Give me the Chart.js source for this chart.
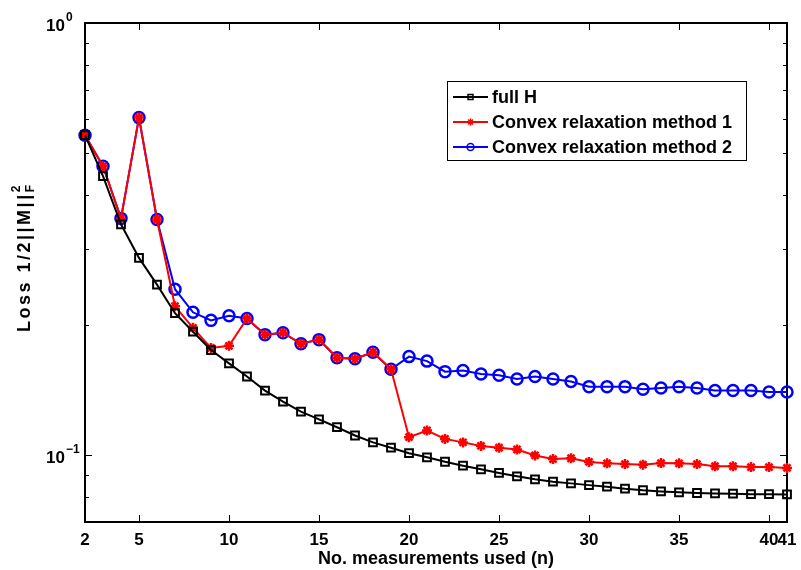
<!DOCTYPE html>
<html>
<head>
<meta charset="utf-8">
<script src="https://cdn.jsdelivr.net/npm/chart.js@4/dist/chart.umd.min.js"></script>
<style>
  body { margin: 0; background: #fff; }
  canvas { display: block; }
</style>
</head>
<body>
<canvas id="chart-loss" width="801" height="570"></canvas>
<script>
// values
const nValues = [2, 3, 4, 5, 6, 7, 8, 9, 10, 11, 12, 13, 14, 15, 16, 17, 18, 19, 20, 21,
                 22, 23, 24, 25, 26, 27, 28, 29, 30, 31, 32, 33, 34, 35, 36, 37, 38, 39, 40, 41];

const fullH = [0.550, 0.442, 0.342, 0.286, 0.248, 0.213, 0.193, 0.175, 0.163, 0.152,
               0.141, 0.133, 0.126, 0.121, 0.116, 0.111, 0.107, 0.104, 0.101, 0.0988,
               0.0965, 0.0945, 0.0927, 0.0909, 0.0893, 0.0879, 0.0868, 0.0860, 0.0852, 0.0845,
               0.0836, 0.0829, 0.0824, 0.0820, 0.0817, 0.0815, 0.0814, 0.0812, 0.0812, 0.0811];

const method1 = [0.550, 0.466, 0.353, 0.604, 0.351, 0.221, 0.197, 0.177, 0.179, 0.207,
                 0.190, 0.192, 0.181, 0.185, 0.168, 0.167, 0.173, 0.158, 0.110, 0.114,
                 0.109, 0.107, 0.105, 0.104, 0.103, 0.0998, 0.0979, 0.0983, 0.0964, 0.0957,
                 0.0953, 0.0950, 0.0958, 0.0957, 0.0953, 0.0942, 0.0942, 0.0938, 0.0938, 0.0934];

const method2 = [0.550, 0.466, 0.353, 0.604, 0.351, 0.242, 0.214, 0.205, 0.210, 0.207,
                 0.190, 0.192, 0.181, 0.185, 0.168, 0.167, 0.173, 0.158, 0.169, 0.165,
                 0.156, 0.157, 0.154, 0.153, 0.150, 0.152, 0.150, 0.148, 0.144, 0.144,
                 0.144, 0.142, 0.143, 0.144, 0.143, 0.141, 0.141, 0.141, 0.140, 0.140];

const seriesLabels = ['full H', 'Convex relaxation method 1', 'Convex relaxation method 2'];

// axis ticks
const xTicks = [2, 5, 10, 15, 20, 25, 30, 35, 40, 41];
const yMajorTicks = [0.1, 1];
const yMajorLabels = [['10', '\u22121'], ['10', '0']];
const yMinorTicks = [0.08, 0.09, 0.2, 0.3, 0.4, 0.5, 0.6, 0.7, 0.8, 0.9];

const FONT = "'Liberation Sans', Arial, Helvetica, sans-serif";

function toPoints(arr) {
    return nValues.map((n, i) => ({ x: n, y: arr[i] }));
}

// box + inward ticks, matlab style
const axesBox = {
    id: 'axesBox',
    beforeDatasetsDraw(chart) {
        const { ctx, chartArea: a, scales: { x, y } } = chart;
        ctx.save();
        ctx.strokeStyle = '#000';
        ctx.lineWidth = 1;
        ctx.beginPath();
        xTicks.forEach(v => {
            const px = Math.round(x.getPixelForValue(v)) + 0.5;
            ctx.moveTo(px, a.bottom); ctx.lineTo(px, a.bottom - 7);
            ctx.moveTo(px, a.top); ctx.lineTo(px, a.top + 7);
        });
        yMajorTicks.forEach(v => {
            const py = Math.round(y.getPixelForValue(v)) + 0.5;
            ctx.moveTo(a.left, py); ctx.lineTo(a.left + 7, py);
            ctx.moveTo(a.right, py); ctx.lineTo(a.right - 7, py);
        });
        yMinorTicks.forEach(v => {
            const py = Math.round(y.getPixelForValue(v)) + 0.5;
            ctx.moveTo(a.left, py); ctx.lineTo(a.left + 4, py);
            ctx.moveTo(a.right, py); ctx.lineTo(a.right - 4, py);
        });
        ctx.stroke();
        ctx.lineWidth = 2;
        ctx.strokeRect(a.left, a.top, a.right - a.left, a.bottom - a.top);

        // y tick labels 10^k
        ctx.fillStyle = '#000';
        ctx.textBaseline = 'alphabetic';
        ctx.textAlign = 'left';
        yMajorTicks.forEach((v, i) => {
            const py = y.getPixelForValue(v);
            const [base, sup] = yMajorLabels[i];
            ctx.font = 'bold 17px ' + FONT;
            ctx.fillText(base, 46, py + 8);
            const w = ctx.measureText(base).width;
            ctx.font = 'bold 12px ' + FONT;
            ctx.fillText(sup, 46 + w + 1, py - 2);
        });

        // y axis title with sup/sub, spaced out glyph by glyph
        ctx.translate(30, 332);
        ctx.rotate(-Math.PI / 2);
        ctx.font = 'bold 18px ' + FONT;
        let pos = 0;
        for (const ch of 'Loss 1/2||M||') {
            ctx.fillText(ch, pos, 0);
            pos += ctx.measureText(ch).width + 2.5;
        }
        ctx.font = 'bold 12px ' + FONT;
        ctx.fillText('2', pos, -10);
        ctx.fillText('F', pos, 4);
        ctx.restore();
    }
};

// legend box drawn inside the axes
const legendBox = {
    id: 'legendBox',
    afterDatasetsDraw(chart) {
        const { ctx } = chart;
        const left = 447, top = 81, width = 299, height = 79;
        ctx.save();
        ctx.fillStyle = '#fff';
        ctx.fillRect(left, top, width, height);
        ctx.strokeStyle = '#000';
        ctx.lineWidth = 1;
        ctx.strokeRect(left + 0.5, top + 0.5, width, height);
        chart.data.datasets.forEach((ds, i) => {
            const cy = 97 + i * 25;
            ctx.strokeStyle = ds.borderColor;
            ctx.lineWidth = 2;
            ctx.beginPath();
            ctx.moveTo(453, cy); ctx.lineTo(488, cy);
            ctx.stroke();
            ctx.fillStyle = 'rgba(0,0,0,0)';
            ctx.strokeStyle = ds.pointBorderColor;
            ctx.lineWidth = 1.5;
            Chart.helpers.drawPoint(ctx, { pointStyle: ds.pointStyle, radius: 3.5, borderWidth: 1.5, rotation: 0 }, 470.5, cy);
            ctx.fillStyle = '#000';
            ctx.font = 'bold 18px ' + FONT;
            ctx.textBaseline = 'middle';
            ctx.textAlign = 'left';
            ctx.fillText(ds.label, 492, cy + 1);
        });
        ctx.restore();
    }
};

const ctx = document.getElementById('chart-loss');
const lossChart = new Chart(ctx, {
    type: 'line',
    data: {
        datasets: [
            {
                label: seriesLabels[0],
                data: toPoints(fullH),
                borderColor: '#000000',
                pointBorderColor: '#000000',
                pointBackgroundColor: 'rgba(0,0,0,0)',
                pointStyle: 'rect',
                pointRadius: 5.5,
                pointBorderWidth: 2,
                borderWidth: 2,
                clip: false
            },
            {
                label: seriesLabels[1],
                data: toPoints(method1),
                borderColor: '#ff0000',
                pointBorderColor: '#ff0000',
                pointBackgroundColor: '#ff0000',
                pointStyle: 'star',
                pointRadius: 5,
                pointBorderWidth: 2.5,
                borderWidth: 2,
                clip: false
            },
            {
                label: seriesLabels[2],
                data: toPoints(method2),
                borderColor: '#0000ff',
                pointBorderColor: '#0000ff',
                pointBackgroundColor: 'rgba(0,0,0,0)',
                pointStyle: 'circle',
                pointRadius: 5.5,
                pointBorderWidth: 2.5,
                borderWidth: 2,
                clip: false
            }
        ]
    },
    options: {
        responsive: false,
        animation: false,
        layout: { padding: { left: 0, right: 14, top: 23, bottom: 0 } },
        scales: {
            x: {
                type: 'linear',
                min: 2,
                max: 41,
                afterBuildTicks: scale => { scale.ticks = xTicks.map(v => ({ value: v })); },
                afterFit: scale => {
                    scale.height = 48;
                    scale.paddingLeft = 0;
                    scale.paddingRight = 0;
                },
                grid: { display: false, drawTicks: false },
                border: { display: false },
                ticks: {
                    autoSkip: false,
                    maxRotation: 0,
                    padding: 8,
                    color: '#000',
                    font: { family: FONT, size: 17, weight: 'bold' }
                },
                title: {
                    display: true,
                    text: 'No. measurements used (n)',
                    color: '#000',
                    padding: { top: 0, bottom: 0 },
                    font: { family: FONT, size: 18, weight: 'bold' }
                }
            },
            y: {
                type: 'logarithmic',
                min: 0.07,
                max: 1,
                afterFit: scale => { scale.width = 85; },
                grid: { display: false, drawTicks: false },
                border: { display: false },
                ticks: { display: false }
            }
        },
        plugins: {
            legend: { display: false },
            tooltip: { enabled: false }
        }
    },
    plugins: [axesBox, legendBox]
});
</script>
</body>
</html>
